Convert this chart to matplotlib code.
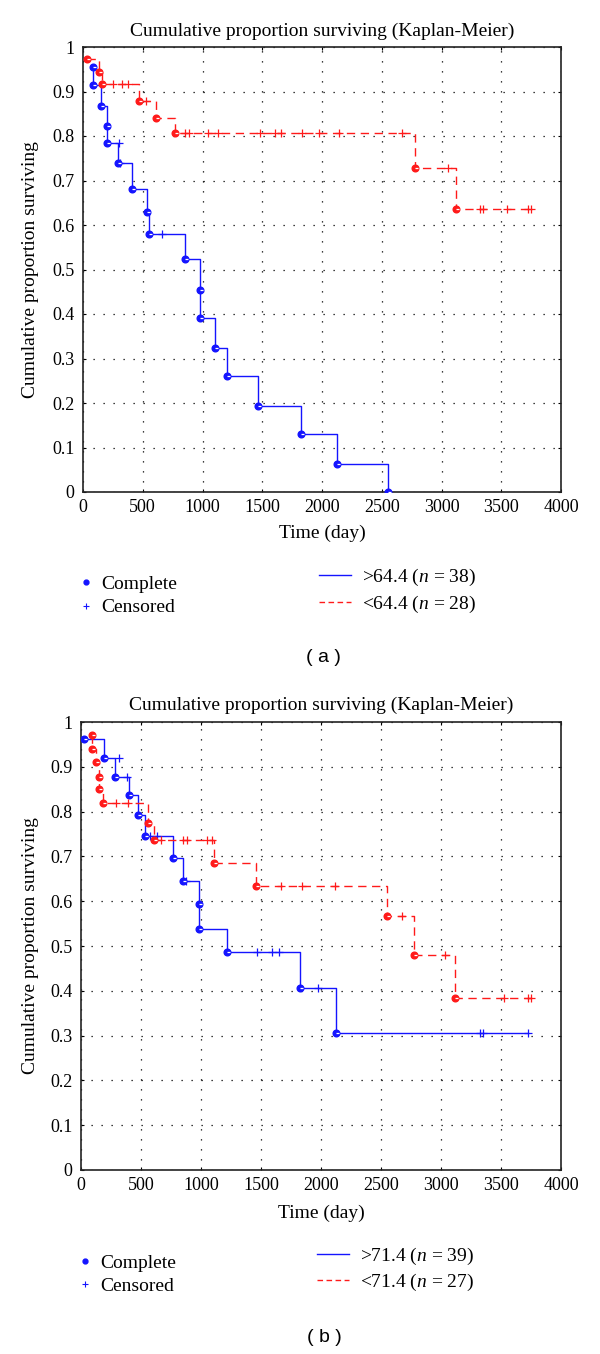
import numpy as np
import matplotlib
matplotlib.use("Agg")
import matplotlib.pyplot as plt
from matplotlib.lines import Line2D
from matplotlib.path import Path

plt.rcParams['font.family'] = ['Liberation Serif', 'DejaVu Serif']
plt.rcParams['mathtext.fontset'] = 'custom'
plt.rcParams['mathtext.rm'] = 'Liberation Serif'
plt.rcParams['mathtext.it'] = 'Liberation Serif:italic'

# ---------------- data: panel (a) ----------------
a_hi_event_t = [87, 87, 154, 199, 199, 295, 407, 536, 552, 856, 975, 975, 1103, 1209, 1466, 1825, 2124, 2550]
a_hi_event_s = [0.956, 0.914, 0.868, 0.823, 0.784, 0.739, 0.682, 0.630, 0.579, 0.523, 0.454, 0.392, 0.323, 0.261, 0.193, 0.130, 0.062, 0.0]
a_hi_cens_t = [300, 310, 664]
a_hi_cens_s = [0.784, 0.739, 0.579]

a_lo_event_t = [31, 130, 156, 471, 610, 770, 2775, 3118]
a_lo_event_s = [0.972, 0.943, 0.916, 0.879, 0.841, 0.806, 0.727, 0.635]
a_lo_cens_t = [254, 324, 379, 527, 856, 889, 1049, 1129, 1482, 1610, 1658, 1835, 1979, 2140, 2669,
               3054, 3326, 3349, 3551, 3727, 3750]
a_lo_cens_s = [0.916, 0.916, 0.916, 0.879, 0.806, 0.806, 0.806, 0.806, 0.806, 0.806, 0.806, 0.806, 0.806, 0.806, 0.806,
               0.727, 0.635, 0.635, 0.635, 0.635, 0.635]

# ---------------- data: panel (b) ----------------
b_hi_event_t = [25, 194, 283, 400, 478, 533, 764, 847, 980, 980, 1213, 1829, 2123]
b_hi_event_s = [0.962, 0.920, 0.877, 0.837, 0.792, 0.746, 0.696, 0.645, 0.593, 0.538, 0.486, 0.406, 0.305]
b_hi_cens_t = [318, 385, 575, 630, 875, 1468, 1590, 1654, 1973, 3329, 3352, 3728]
b_hi_cens_s = [0.920, 0.877, 0.746, 0.746, 0.645, 0.486, 0.486, 0.486, 0.406, 0.305, 0.305, 0.305]

b_lo_event_t = [89, 89, 125, 150, 150, 186, 556, 610, 1111, 1462, 2547, 2777, 3115]
b_lo_event_s = [0.972, 0.940, 0.910, 0.877, 0.850, 0.820, 0.775, 0.737, 0.685, 0.634, 0.566, 0.480, 0.385]
b_lo_cens_t = [290, 393, 664, 849, 887, 1047, 1095, 1669, 1845, 2116, 2675, 3036, 3521, 3728, 3751]
b_lo_cens_s = [0.820, 0.820, 0.737, 0.737, 0.737, 0.737, 0.737, 0.634, 0.634, 0.634, 0.566, 0.480, 0.385, 0.385, 0.385]

x_ticks = [0, 500, 1000, 1500, 2000, 2500, 3000, 3500, 4000]
y_ticks = [0, 0.1, 0.2, 0.3, 0.4, 0.5, 0.6, 0.7, 0.8, 0.9, 1.0]
y_ticklabels = ['0', '0.1', '0.2', '0.3', '0.4', '0.5', '0.6', '0.7', '0.8', '0.9', '1']

panels = [
    dict(hi=(a_hi_event_t, a_hi_event_s, a_hi_cens_t, a_hi_cens_s),
         lo=(a_lo_event_t, a_lo_event_s, a_lo_cens_t, a_lo_cens_s),
         hi_label=r'>64.4 ($n$ = 38)', lo_label=r'<64.4 ($n$ = 28)', tag='( a )'),
    dict(hi=(b_hi_event_t, b_hi_event_s, b_hi_cens_t, b_hi_cens_s),
         lo=(b_lo_event_t, b_lo_event_s, b_lo_cens_t, b_lo_cens_s),
         hi_label=r'>71.4 ($n$ = 39)', lo_label=r'<71.4 ($n$ = 27)', tag='( b )'),
]

W, H = 600, 1354
fig = plt.figure(figsize=(W / 100, H / 100), dpi=100)

boxes = [(83, 47, 561, 492), (81, 722, 561, 1170)]
BLUE = '#1414ff'
RED = '#ff1a1a'
FS = 14
DASH = (0, (6, 4))
SLIT = Path([(0.0, 0.0), (1.0, 0.0)], [Path.MOVETO, Path.LINETO])


def fx(px):
    return px / W


def fy(py):
    return 1 - py / H


layout = [
    dict(title_y=31, ylab_x=31, xlab_y=533, leg_l=(79, 596), leg_r=(319, 591), tag=(323, 658)),
    dict(title_y=705, ylab_x=31, xlab_y=1213, leg_l=(78, 1274.5), leg_r=(317, 1269.5), tag=(324, 1338)),
]

for p, box, lay in zip(panels, boxes, layout):
    l, t, r, b = box
    ax = fig.add_axes([fx(l), fy(b), (r - l) / W, (b - t) / H])

    for key, color, ls in (('hi', BLUE, '-'), ('lo', RED, DASH)):
        et, es, ct, cs = p[key]
        xs = list(et) + [max(ct[-1], et[-1])]
        ys = list(es) + [es[-1]]
        ax.step(xs, ys, where='post', color=color, lw=1.0, linestyle=ls, zorder=3)
        ax.plot(et, es, linestyle='none', marker='o', ms=4.8, color=color, zorder=4)
        ax.plot(et, es, linestyle='none', marker=SLIT, ms=4.4, mew=0.9, color='white', zorder=5)
        ax.plot(ct, cs, linestyle='none', marker='+', ms=6, mew=0.9, color=color, zorder=4)

    ax.set_xlim(0, 4000)
    ax.set_ylim(0, 1)
    ax.set_xticks(x_ticks)
    ax.set_xticklabels([str(v) for v in x_ticks])
    ax.set_yticks(y_ticks)
    ax.set_yticklabels(y_ticklabels)
    ax.tick_params(direction='in', length=2, width=0.8, labelsize=13, pad=6,
                   top=True, right=True)
    ax.tick_params(axis='x', pad=5)
    ax.grid(True, color='black', linestyle=(0, (1, 7)), linewidth=0.9)
    for s in ax.spines.values():
        s.set_linewidth(1.2)
        s.set_color('#222222')

    ax.set_xlabel('Time (day)', fontsize=FS)
    ax.xaxis.set_label_coords(0.5, -(lay['xlab_y'] - b) / (b - t))
    ax.xaxis.label.set_va('center')
    ax.set_ylabel('Cumulative proportion surviving', fontsize=FS)
    ax.yaxis.set_label_coords(-(l - lay['ylab_x']) / (r - l), 0.5)
    ax.yaxis.label.set_va('center')
    ax.yaxis.label.set_ha('center')

    fig.text(fx((l + r) / 2), fy(lay['title_y']), 'Cumulative proportion surviving (Kaplan-Meier)',
             ha='center', va='center', fontsize=FS)

    mk_handles = [Line2D([], [], linestyle='none', marker='o', ms=3.5, color=BLUE),
                  Line2D([], [], linestyle='none', marker='+', ms=4, mew=0.8, color=BLUE)]
    leg1 = ax.legend(mk_handles, ['Complete', 'Censored'], loc='center left',
                     bbox_to_anchor=(fx(lay['leg_l'][0]), fy(lay['leg_l'][1])),
                     bbox_transform=fig.transFigure, frameon=False, fontsize=FS,
                     handlelength=0.7, handletextpad=0.45, borderpad=0, borderaxespad=0,
                     labelspacing=0.28, numpoints=1)
    ax.add_artist(leg1)
    line_handles = [Line2D([], [], color=BLUE, lw=1.0),
                    Line2D([], [], color=RED, lw=1.0, linestyle=(0, (4, 2.5)))]
    ax.legend(line_handles, [p['hi_label'], p['lo_label']], loc='center left',
              bbox_to_anchor=(fx(lay['leg_r'][0]), fy(lay['leg_r'][1])),
              bbox_transform=fig.transFigure, frameon=False, fontsize=FS,
              handlelength=1.65, handletextpad=0.57, borderpad=0, borderaxespad=0,
              labelspacing=0.28)

    fig.text(fx(lay['tag'][0]), fy(lay['tag'][1]), p['tag'], ha='center', va='center',
             fontsize=14, family=['Liberation Sans', 'DejaVu Sans'])

fig.savefig('out.png', dpi=100)
